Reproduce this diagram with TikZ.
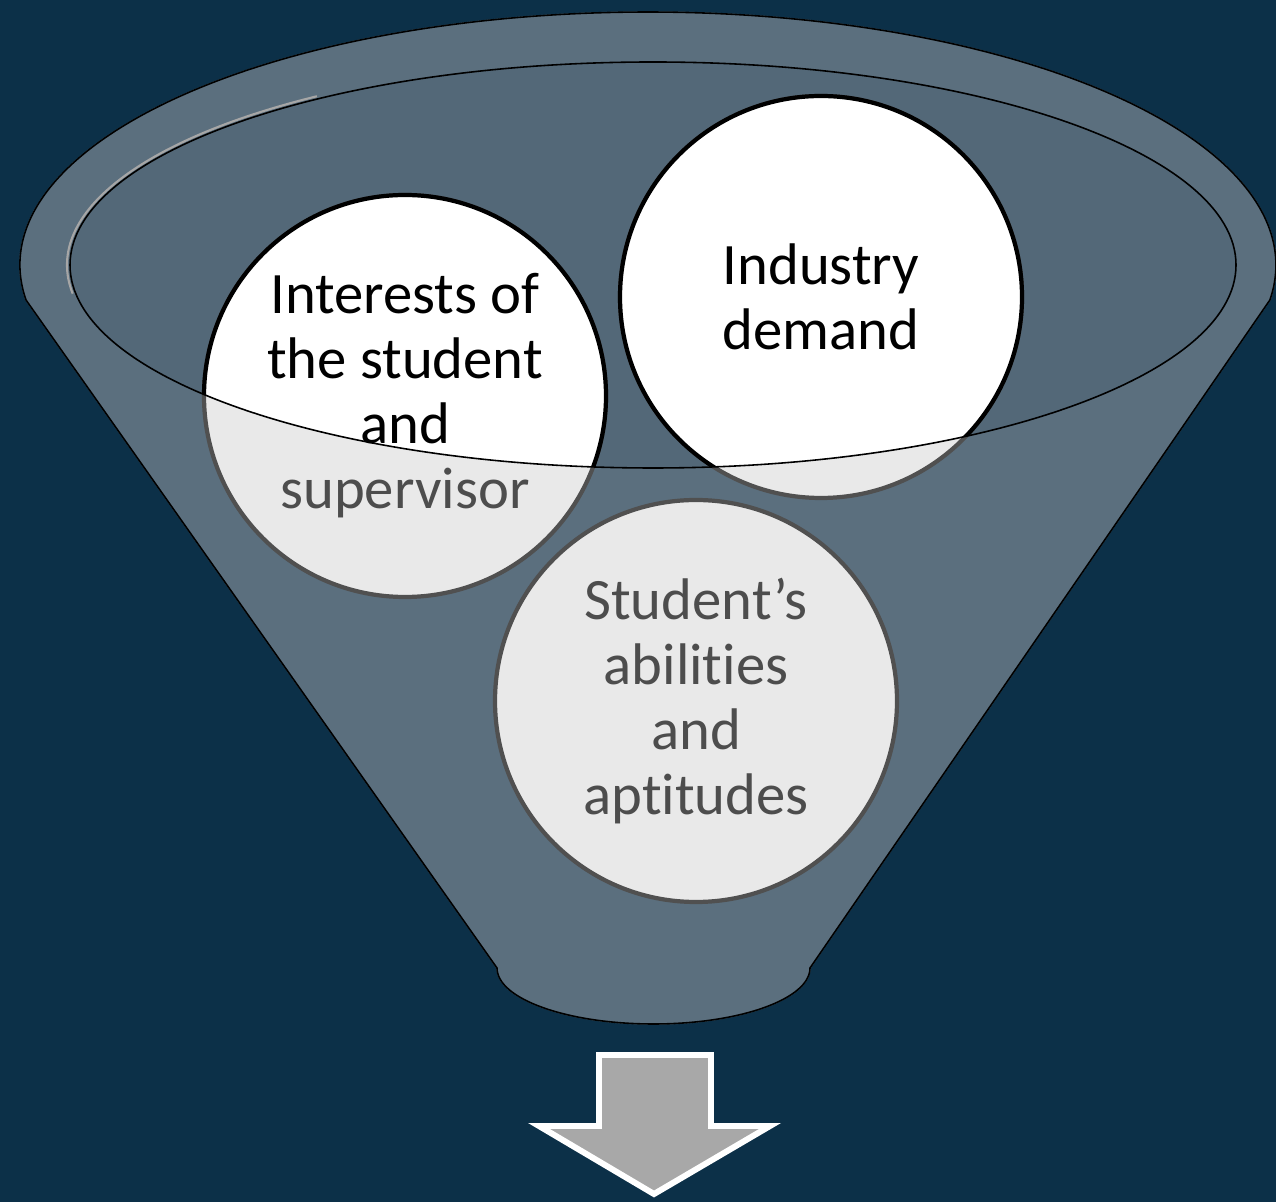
\documentclass[tikz,border=0pt]{standalone}
\usepackage{xcolor}
\usepackage{fontspec}
\setmainfont{Carlito}[Ligatures={NoCommon}]
\definecolor{night}{HTML}{0C3048}
\definecolor{funnelgray}{HTML}{5B6F7E}
\definecolor{mouthgray}{HTML}{536878}
\definecolor{palegray}{HTML}{E9E9E9}
\definecolor{ringgray}{HTML}{505050}
\definecolor{inkgray}{HTML}{4D4D4D}
\definecolor{arrowgray}{HTML}{A8A8A8}
\tikzset{
  bubble/.style={circle, draw=ringgray, fill=palegray, line width=1.2pt,
    minimum size=4.02cm, inner sep=0pt, align=center, text=inkgray,
    font=\fontsize{16.7}{18.5}\selectfont},
  bubbletop/.style={bubble, draw=black, fill=white, text=black},
}
\begin{document}
\begin{tikzpicture}
\fill [night] (0,0) rectangle (12.76,-12.02);
\useasboundingbox (0,0) rectangle (12.76,-12.02);
\coordinate (rimL) at (0.26,-3.00);
\coordinate (spoutR) at (8.10,-9.68);
\draw [funnelgray, fill=funnelgray] (rimL) arc [start angle=187.95, end angle=-7.95, x radius=6.28, y radius=2.53]
  -- (spoutR) arc [start angle=0, end angle=-180, x radius=1.565, y radius=0.56] -- cycle;
\draw [black, line width=0.45pt] (rimL) arc [start angle=187.95, end angle=-7.95, x radius=6.28, y radius=2.53]
  -- (spoutR) arc [start angle=0, end angle=-180, x radius=1.565, y radius=0.56] -- cycle;
\coordinate (mouth) at (6.53,-2.65);
\fill [mouthgray] (mouth) ellipse [x radius=5.83, y radius=2.03];
\node [bubble] (interests) at (4.05,-3.96) {Interests of\\the student\\and\\supervisor};
\node [bubble] (industry) at (8.21,-2.97) {Industry\\demand};
\node [bubble] (abilities) at (6.96,-7.01) {Student’s\\abilities\\and\\aptitudes};
\begin{scope}
\clip (mouth) ellipse [x radius=5.83, y radius=2.03];
\node [bubbletop] (interestsTop) at (interests.center) {Interests of\\the student\\and\\supervisor};
\node [bubbletop] (industryTop) at (industry.center) {Industry\\demand};
\end{scope}
\draw [gray!70, line width=0.6pt] (mouth) ++(125:5.86 and 2.06) arc [start angle=125, end angle=188, x radius=5.86, y radius=2.06];
\draw [black, line width=0.45pt] (mouth) ellipse [x radius=5.83, y radius=2.03];
\draw [white, fill=arrowgray, line width=1.7pt, line join=miter]
  (5.99,-10.55) -- (7.11,-10.55) -- (7.11,-11.26) -- (7.70,-11.26) -- (6.54,-11.94)
  -- (5.39,-11.26) -- (5.99,-11.26) -- cycle;
\end{tikzpicture}
\end{document}
